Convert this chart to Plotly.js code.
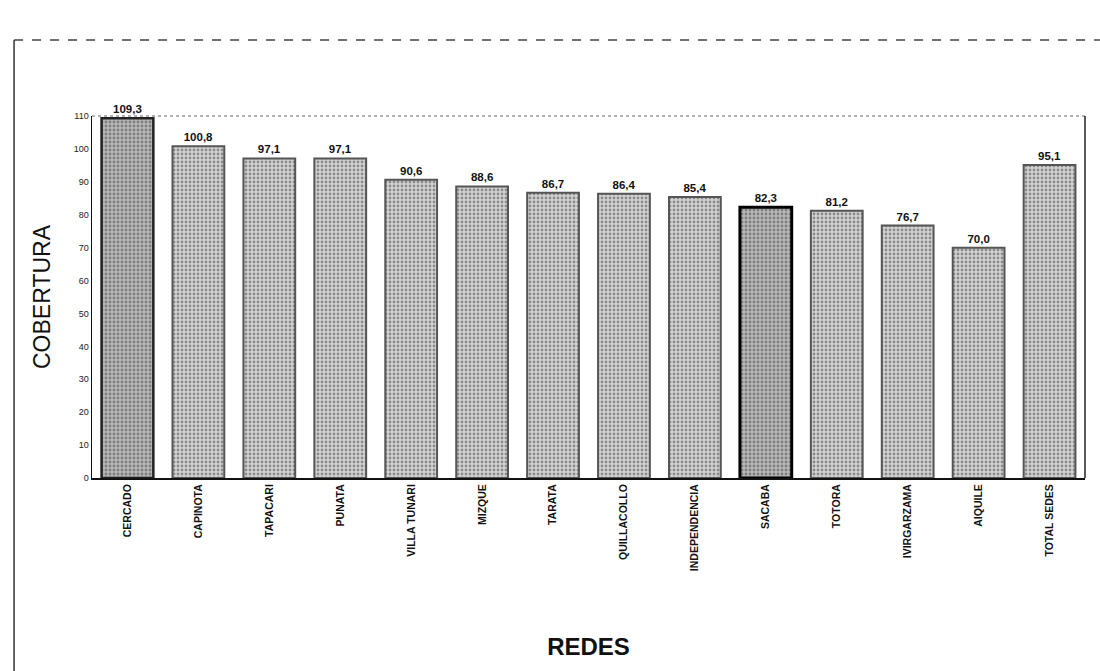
<!DOCTYPE html>
<html>
<head>
<meta charset="utf-8">
<script src="https://cdn.plot.ly/plotly-3.0.1.min.js"></script>
<style>html,body{margin:0;padding:0;background:#fff;}#chart{width:1100px;height:671px;}</style>
</head>
<body>
<div id="chart"></div>
<script>
var redes = ["CERCADO","CAPINOTA","TAPACARI","PUNATA","VILLA TUNARI","MIZQUE","TARATA","QUILLACOLLO","INDEPENDENCIA","SACABA","TOTORA","IVIRGARZAMA","AIQUILE","TOTAL SEDES"];
var cobertura = [109.3,100.8,97.1,97.1,90.6,88.6,86.7,86.4,85.4,82.3,81.2,76.7,70.0,95.1];
var yTicks = [0,10,20,30,40,50,60,70,80,90,100,110];

var labels = cobertura.map(function(v){ return v.toFixed(1).replace('.', ','); });
var isDark = redes.map(function(r){ return r==="CERCADO"||r==="SACABA"; });
var fg = isDark.map(function(d){ return d ? "#444" : "#9a9a9a"; });
var bg = isDark.map(function(d){ return d ? "#b8b8b8" : "#d3d3d3"; });
var lc = redes.map(function(r){ return r==="SACABA" ? "#000" : (r==="CERCADO" ? "#222" : "#555"); });
var lw = redes.map(function(r){ return r==="SACABA" ? 3 : (r==="CERCADO" ? 2.5 : 2); });

var trace = {
  type: "bar",
  x: redes,
  y: cobertura,
  text: labels,
  textposition: "outside",
  cliponaxis: false,
  textfont: {family: "Arial, Liberation Sans, sans-serif", size: 11.5, color: "#111", weight: "bold"},
  marker: {
    color: bg,
    line: {color: lc, width: lw},
    pattern: {shape: ".", fgcolor: fg, size: 4, solidity: 0.4, fillmode: "overlay"}
  },
  hoverinfo: "x+y"
};

var layout = {
  width: 1100, height: 671,
  margin: {l: 92, r: 15, t: 116, b: 193},
  paper_bgcolor: "#fff",
  plot_bgcolor: "#fff",
  bargap: 0.27,
  showlegend: false,
  font: {family: "Arial, Liberation Sans, sans-serif", color: "#111"},
  xaxis: {
    type: "category",
    tickangle: -90,
    tickfont: {size: 10.5, color: "#111", weight: "bold"},
    showline: true, linecolor: "#111", linewidth: 2,
    ticks: "", showgrid: false,
    title: {text: "<b>REDES</b>", font: {size: 24, color: "#111"}, standoff: 68}
  },
  yaxis: {
    range: [0, 110],
    tickvals: yTicks,
    tickfont: {size: 9, color: "#222"},
    showline: true, linecolor: "#111", linewidth: 1.5,
    ticks: "", showgrid: false, zeroline: false,
    title: {text: "COBERTURA", font: {size: 23, color: "#111"}, standoff: 16}
  },
  shapes: [
    {type: "line", xref: "paper", yref: "paper", x0: 0, x1: 1, y0: 1, y1: 1, line: {color: "#666", width: 1, dash: "dot"}},
    {type: "line", xref: "paper", yref: "paper", x0: 1, x1: 1, y0: 0, y1: 1, line: {color: "#222", width: 1.5}},
    {type: "line", xref: "paper", yref: "paper", x0: -0.0785, x1: 1.015, y0: 1.21, y1: 1.21, line: {color: "#444", width: 1.5, dash: "dash"}},
    {type: "line", xref: "paper", yref: "paper", x0: -0.0785, x1: -0.0785, y0: 1.21, y1: -0.54, line: {color: "#333", width: 1.5}}
  ]
};

Plotly.newPlot("chart", [trace], layout, {displayModeBar: false, staticPlot: true});
</script>
</body>
</html>
